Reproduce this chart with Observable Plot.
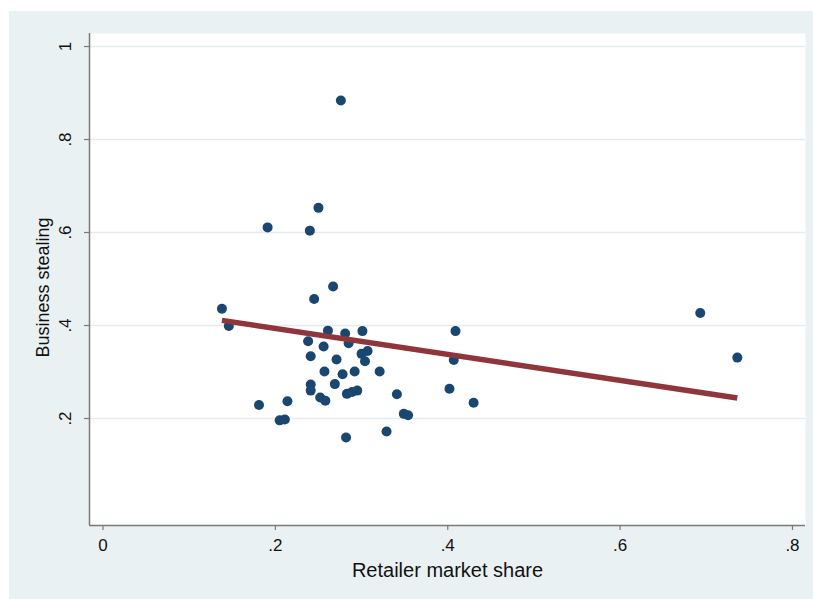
<!DOCTYPE html>
<html>
<head>
<meta charset="utf-8">
<script src="https://cdn.jsdelivr.net/npm/d3@7"></script>
<script src="https://cdn.jsdelivr.net/npm/@observablehq/plot@0.6"></script>
<style>
  html, body { margin: 0; padding: 0; background: #ffffff; }
  #bg { position: absolute; left: 9px; top: 11px; width: 804px; height: 588px; background: #eaf1f3; }
  #chart { position: absolute; left: 0; top: 0; }
</style>
</head>
<body>
<div id="bg"></div>
<div id="chart"></div>
<script>
// Retailer market share (x) and business stealing (y)
const marketShare = [
  0.138, 0.146, 0.191, 0.240, 0.250, 0.276, 0.245, 0.267, 0.261, 0.281,
  0.301, 0.238, 0.285, 0.256, 0.241, 0.300, 0.307, 0.304, 0.271, 0.257,
  0.278, 0.292, 0.321, 0.269, 0.241, 0.241, 0.252, 0.258, 0.283, 0.289,
  0.295, 0.181, 0.214, 0.205, 0.211, 0.282, 0.329, 0.341, 0.349, 0.354,
  0.409, 0.407, 0.402, 0.430, 0.693, 0.736
];
const businessStealing = [
  0.436, 0.399, 0.611, 0.604, 0.653, 0.884, 0.457, 0.484, 0.389, 0.383,
  0.388, 0.366, 0.362, 0.355, 0.334, 0.339, 0.345, 0.323, 0.327, 0.301,
  0.295, 0.301, 0.301, 0.274, 0.273, 0.260, 0.245, 0.238, 0.253, 0.257,
  0.260, 0.229, 0.237, 0.196, 0.198, 0.159, 0.172, 0.252, 0.210, 0.207,
  0.388, 0.326, 0.264, 0.234, 0.427, 0.331
];
// Linear fit line endpoints
const fitX = [0.138, 0.736];
const fitY = [0.411, 0.244];

const xTicks = [0, 0.2, 0.4, 0.6, 0.8];
const yTicks = [0.2, 0.4, 0.6, 0.8, 1];
const xTitle = "Retailer market share";
const yTitle = "Business stealing";

const points = marketShare.map((x, i) => ({x, y: businessStealing[i]}));
const fit = fitX.map((x, i) => ({x, y: fitY[i]}));
const fmt = d => d === 0 ? "0" : d === 1 ? "1" : String(d).replace(/^0\./, ".");

const font = "'Liberation Sans', Arial, Helvetica, sans-serif";
const xDom = [-0.01566, 0.8151];
const yDom = [-0.0301, 1.028];

const plot = Plot.plot({
  width: 813,
  height: 599,
  marginLeft: 89,
  marginRight: 8,
  marginTop: 33,
  marginBottom: 74,
  style: {background: "transparent", fontFamily: font, color: "#111"},
  x: {domain: xDom, axis: null, label: null},
  y: {domain: yDom, axis: null, label: null},
  marks: [
    Plot.frame({fill: "white"}),
    Plot.ruleY(yTicks, {stroke: "#e4ecef", strokeWidth: 1.3}),
    Plot.ruleX([xDom[0]], {stroke: "#7a7a7a", strokeWidth: 1.5}),
    Plot.ruleY([yDom[0]], {stroke: "#7a7a7a", strokeWidth: 1.5}),
    Plot.axisX(xTicks, {anchor: "bottom", tickSize: 5, tickFormat: () => "", label: null, stroke: "#7a7a7a", strokeWidth: 1.2}),
    Plot.axisY(yTicks, {anchor: "left", tickSize: 5, tickFormat: () => "", label: null, stroke: "#7a7a7a", strokeWidth: 1.2}),
    Plot.text(xTicks, {x: d => d, frameAnchor: "bottom", dy: 20, text: fmt, lineAnchor: "middle", fontSize: 17, fill: "#111"}),
    Plot.text(yTicks, {y: d => d, frameAnchor: "left", dx: -24, rotate: -90, text: fmt, lineAnchor: "middle", textAnchor: "middle", fontSize: 17, fill: "#111"}),
    Plot.text([xTitle], {frameAnchor: "bottom", dy: 45, text: d => d, lineAnchor: "middle", fontSize: 20, fill: "#111"}),
    Plot.text([yTitle], {frameAnchor: "left", dx: -46, dy: 8, rotate: -90, text: d => d, lineAnchor: "middle", textAnchor: "middle", fontSize: 18, fill: "#111"}),
    Plot.dot(points, {x: "x", y: "y", r: 5, fill: "#1a476f", stroke: null}),
    Plot.line(fit, {x: "x", y: "y", stroke: "#90353b", strokeWidth: 5.5, strokeLinecap: "butt"})
  ]
});
document.getElementById("chart").appendChild(plot);
</script>
</body>
</html>
